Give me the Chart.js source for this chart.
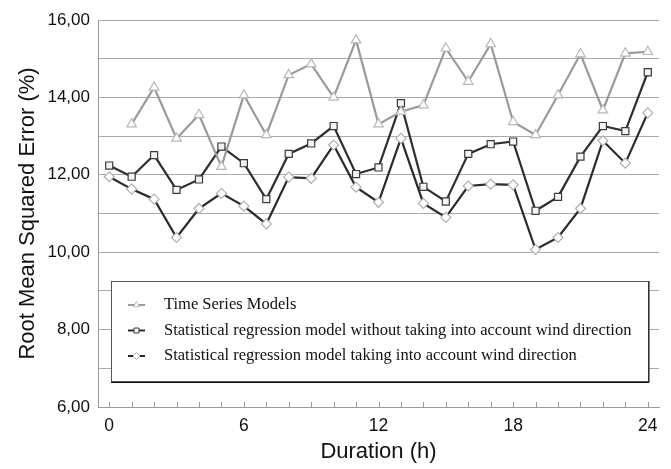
<!DOCTYPE html>
<html><head><meta charset="utf-8">
<script src="https://cdn.jsdelivr.net/npm/chart.js@4.4.1/dist/chart.umd.min.js"></script>
<style>html,body{margin:0;padding:0;background:#fff;}</style>
</head><body>
<canvas id="c" width="671" height="469" style="width:671px;height:469px;display:block"></canvas>
<script>
const hours = [0,1,2,3,4,5,6,7,8,9,10,11,12,13,14,15,16,17,18,19,20,21,22,23,24];
const timeSeries = [null,13.31,14.26,12.94,13.55,12.21,14.06,13.03,14.58,14.86,14.00,15.48,13.31,13.63,13.80,15.27,14.41,15.38,13.37,13.03,14.06,15.12,13.67,15.14,15.18];
const regNoWind  = [12.24,11.95,12.51,11.61,11.88,12.73,12.30,11.37,12.54,12.81,13.26,12.02,12.19,13.85,11.69,11.31,12.54,12.79,12.86,11.07,11.43,12.47,13.26,13.13,14.65];
const regWind    = [11.95,11.63,11.37,10.38,11.13,11.52,11.19,10.73,11.94,11.91,12.77,11.68,11.29,12.94,11.26,10.90,11.71,11.76,11.74,10.07,10.38,11.13,12.88,12.30,13.60];
const xTickLabels = [0,6,12,18,24];
const yTickLabels = [6,8,10,12,14,16];
const seriesNames = [
  'Time Series Models',
  'Statistical regression model without taking into account wind direction',
  'Statistical regression model taking into account wind direction'
];

const toXY = arr => hours.map((h,i) => ({x:h, y:arr[i]}));

const innerTicks = {
  id:'innerTicks',
  afterDraw(chart){
    const {ctx, chartArea, scales:{x}} = chart;
    ctx.save();
    ctx.strokeStyle = '#999'; ctx.lineWidth = 1;
    x.ticks.forEach(t => {
      const px = Math.round(x.getPixelForValue(t.value)) + 0.5;
      ctx.beginPath(); ctx.moveTo(px, chartArea.bottom); ctx.lineTo(px, chartArea.bottom - 5); ctx.stroke();
    });
    ctx.restore();
  }
};

const boxLegend = {
  id:'boxLegend',
  afterDraw(chart){
    const {ctx, chartArea} = chart;
    const L = chartArea.left + 13, R = chartArea.right - 11, T = 281, B = 381;
    ctx.save();
    ctx.fillStyle = '#fff'; ctx.fillRect(L, T, R-L, B-T);
    ctx.strokeStyle = '#555'; ctx.lineWidth = 1;
    ctx.strokeRect(L+0.5, T+0.5, R-L, B-T);
    ctx.strokeStyle = '#111';
    ctx.beginPath(); ctx.moveTo(R+1, T); ctx.lineTo(R+1, B+1.5); ctx.lineTo(L, B+1.5); ctx.stroke();
    ctx.font = '16.5px "Liberation Serif", "Times New Roman", serif';
    ctx.textBaseline = 'middle';
    chart.data.datasets.forEach((ds, i) => {
      const y = 305 + i*25.5;
      ctx.strokeStyle = ds.borderColor; ctx.lineWidth = 2;
      ctx.beginPath(); ctx.moveTo(L+17, y); ctx.lineTo(L+34, y); ctx.stroke();
      ctx.fillStyle = ds.pointBackgroundColor; ctx.strokeStyle = ds.pointBorderColor; ctx.lineWidth = 1;
      Chart.helpers.drawPoint(ctx, {pointStyle: ds.pointStyle, radius: 3.5, borderWidth: 1, rotation: 0}, L+25.5, y);
      ctx.fillStyle = '#111';
      ctx.fillText(seriesNames[i], L+53, y);
    });
    ctx.restore();
  }
};

new Chart(document.getElementById('c'), {
  type:'line',
  data:{
    datasets:[
      {label:seriesNames[0], data:toXY(timeSeries), borderColor:'#9a9a9a', borderWidth:2.2,
       pointStyle:'triangle', pointRadius:5.5, pointBorderColor:'#b8b8b8', pointBackgroundColor:'#fff', pointBorderWidth:1.2, spanGaps:false},
      {label:seriesNames[1], data:toXY(regNoWind), borderColor:'#2e2e2e', borderWidth:2.2,
       pointStyle:'rect', pointRadius:5, pointBorderColor:'#3a3a3a', pointBackgroundColor:'#f4f4f4', pointBorderWidth:1.2},
      {label:seriesNames[2], data:toXY(regWind), borderColor:'#2a2a2a', borderWidth:2.2,
       pointStyle:'rectRot', pointRadius:5, pointBorderColor:'#b0b0b0', pointBackgroundColor:'#fff', pointBorderWidth:1.2}
    ]
  },
  options:{
    responsive:false, animation:false, devicePixelRatio:1,
    layout:{padding:{top:20, right:12, left:0, bottom:0}},
    plugins:{legend:{display:false}, tooltip:{enabled:false}},
    elements:{line:{tension:0}},
    scales:{
      x:{type:'linear', min:-0.5, max:24.5,
        afterBuildTicks: s => { s.ticks = hours.map(v => ({value:v})); },
        afterFit: s => { s.height = 62; },
        ticks:{autoSkip:false, maxRotation:0, padding:1, color:'#111',
          font:{family:'"Liberation Sans", Arial, sans-serif', size:17.5},
          callback: v => xTickLabels.includes(v) ? String(v) : ''},
        grid:{display:false},
        border:{display:true, color:'#999', width:1},
        title:{display:true, text:'Duration (h)', color:'#111',
          font:{family:'"Liberation Sans", Arial, sans-serif', size:22}, padding:{top:0, bottom:4}}
      },
      y:{type:'linear', min:6, max:16,
        afterFit: s => { s.width = 98; },
        ticks:{stepSize:1, padding:8, color:'#111',
          font:{family:'"Liberation Sans", Arial, sans-serif', size:17},
          callback: v => yTickLabels.includes(v) ? v.toFixed(2).replace('.', ',') : ''},
        grid:{color:'#aaa', lineWidth:1, drawTicks:false},
        border:{display:true, color:'#999', width:1},
        title:{display:true, text:'Root Mean Squared Error (%)', color:'#111',
          font:{family:'"Liberation Sans", Arial, sans-serif', size:22}, padding:{top:15, bottom:0}}
      }
    }
  },
  plugins:[innerTicks, boxLegend]
});
</script>
</body></html>
